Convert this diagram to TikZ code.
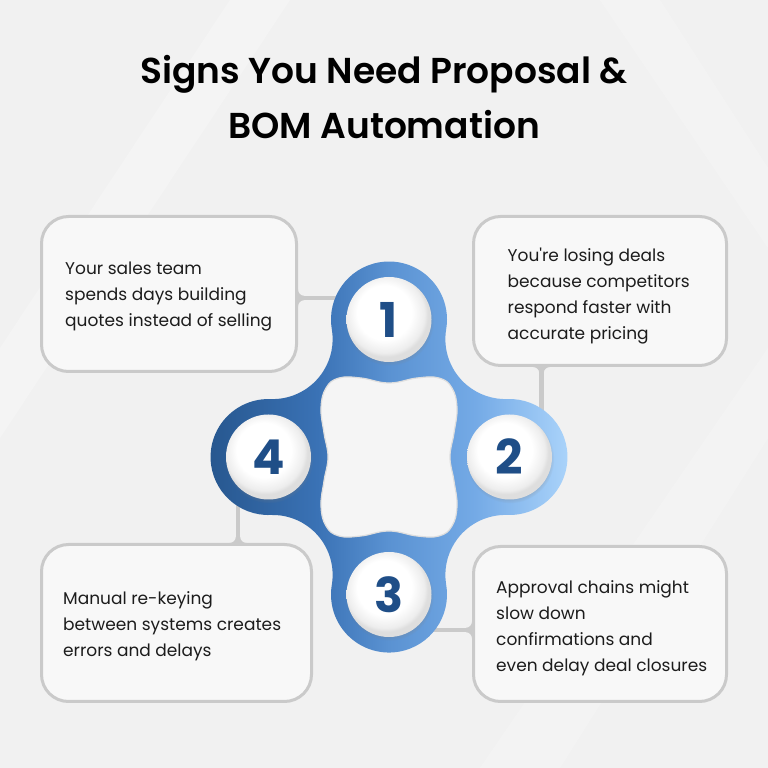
\documentclass[tikz,border=0pt]{standalone}
\usepackage{fontspec}
\setmainfont{Poppins}
\newfontfamily\titlefont{Poppins}[UprightFont={* SemiBold}]
\usetikzlibrary{calc,shadows}
\definecolor{bg}{HTML}{F1F1F1}
\definecolor{boxfill}{HTML}{F8F8F8}
\definecolor{boxline}{HTML}{CACACA}
\definecolor{numcol}{HTML}{1F4E87}
\definecolor{txtcol}{HTML}{1C1C1C}
\definecolor{holecol}{HTML}{F5F5F5}
\definecolor{bA}{HTML}{27578F}
\definecolor{bB}{HTML}{3A72B5}
\definecolor{bC}{HTML}{5A92D2}
\definecolor{bD}{HTML}{74AAE6}
\definecolor{bE}{HTML}{AAD3FA}
\pgfdeclarehorizontalshading{bluegrad}{100bp}{color(0bp)=(bA); color(25bp)=(bA); color(40bp)=(bB); color(50bp)=(bC); color(62bp)=(bD); color(75bp)=(bE); color(100bp)=(bE)}
\pgfdeclareradialshading{discshade}{\pgfpoint{-4bp}{6bp}}{color(0bp)=(white); color(16bp)=(white); color(23bp)=(black!7); color(25bp)=(black!13); color(50bp)=(black!13)}
\newcommand\btext[1]{\parbox[t]{280pt}{\raggedright\fontsize{17}{25.7}\selectfont #1}}
\begin{document}
\begin{tikzpicture}[x=1pt,y=1pt,
  infobox/.style={draw=boxline, line width=3pt, fill=boxfill, rounded corners=27pt},
  conn/.style={draw=boxline, line width=4.5pt},
  fillet/.style={fill=boxline},
  numc/.style={circle, minimum size=85pt, inner sep=0pt, shading=discshade,
    circular drop shadow={shadow xshift=0.5pt, shadow yshift=-2pt, opacity=0.35, shadow scale=1.04},
    text=numcol, font=\fontsize{48}{48}\selectfont\bfseries},
  btxt/.style={anchor=base west, inner sep=0pt, text=txtcol}
]
\useasboundingbox (0,0) rectangle (768,768);
\fill[bg] (0,0) rectangle (768,768);
% faint streaks
\fill[white, opacity=0.25] (0,330) -- (0,420) -- (230,768) -- (290,768) -- cycle;
\fill[white, opacity=0.2] (480,0) -- (560,0) -- (768,330) -- (768,420) -- cycle;
\fill[white, opacity=0.2] (600,768) -- (660,768) -- (768,600) -- (768,520) -- cycle;

% centres of the four discs
\coordinate (O) at (389,311);
\coordinate (c1) at (389,448.5);
\coordinate (c2) at (509.5,311);
\coordinate (c3) at (389,173.5);
\coordinate (c4) at (268.5,311);

% boxes
\node[infobox, minimum width=255pt, minimum height=155pt] (b1) at (169,474) {};
\node[infobox, minimum width=253pt, minimum height=149pt] (b2) at (600,477) {};
\node[infobox, minimum width=253pt, minimum height=155pt] (b3) at (600,144) {};
\node[infobox, minimum width=270pt, minimum height=157pt] (b4) at (176.5,145) {};

% connectors
\draw[conn] (b1.east |- 0,470) -- (c1 |- 0,470);
\fill[fillet] ($(b1.east |- 0,470)+(0,8.5)$) to[out=-90,in=180] ($(b1.east |- 0,470)+(6,2.2)$) -- ($(b1.east |- 0,470)+(6,-2.2)$) to[out=180,in=90] ($(b1.east |- 0,470)+(0,-8.5)$) -- cycle;
\draw[conn] (b2.south -| 541.5,0) -- (c2 -| 541.5,0);
\fill[fillet] ($(b2.south -| 541.5,0)+(-8.5,0)$) to[out=0,in=90] ($(b2.south -| 541.5,0)+(-2.2,-6)$) -- ($(b2.south -| 541.5,0)+(2.2,-6)$) to[out=90,in=180] ($(b2.south -| 541.5,0)+(8.5,0)$) -- cycle;
\draw[conn] (b3.west |- 0,138) -- (c3 |- 0,138);
\fill[fillet] ($(b3.west |- 0,138)+(0,8.5)$) to[out=-90,in=0] ($(b3.west |- 0,138)+(-6,2.2)$) -- ($(b3.west |- 0,138)+(-6,-2.2)$) to[out=0,in=90] ($(b3.west |- 0,138)+(0,-8.5)$) -- cycle;
\draw[conn] (b4.north -| 238,0) -- (c4 -| 238,0);
\fill[fillet] ($(b4.north -| 238,0)+(-8.5,0)$) to[out=0,in=-90] ($(b4.north -| 238,0)+(-2.2,6)$) -- ($(b4.north -| 238,0)+(2.2,6)$) to[out=-90,in=180] ($(b4.north -| 238,0)+(8.5,0)$) -- cycle;

% blue body
\shade[shading=bluegrad] ($(c1)+(189.56:58pt)$)
  arc[start angle=189.56, end angle=-9.56, radius=58pt]
  arc[start angle=170.44, end angle=271.99, radius=60pt]
  arc[start angle=91.99, end angle=-91.99, radius=58pt]
  arc[start angle=88.01, end angle=189.56, radius=60pt]
  arc[start angle=9.56, end angle=-189.56, radius=58pt]
  arc[start angle=-9.56, end angle=91.99, radius=60pt]
  arc[start angle=-88.01, end angle=-271.99, radius=58pt]
  arc[start angle=-91.99, end angle=9.56, radius=60pt] -- cycle;

% central hole
\begin{scope}[shift={(O)}]
\filldraw[fill=holecol, draw=black!13, line width=1.2pt]
  plot[smooth cycle, tension=0.7] coordinates {
   (0,74) (28,79) (50,79) (63,69) (68,49) (65,24) (61,0) (65,-24) (68,-49) (63,-69) (50,-79) (28,-79)
   (0,-74) (-28,-79) (-50,-79) (-63,-69) (-68,-49) (-65,-24) (-61,0) (-65,24) (-68,49) (-63,69) (-50,79) (-28,79)};
\end{scope}

% numbered discs
\node[numc] (n1) at (c1) {1};
\node[numc] (n2) at (c2) {2};
\node[numc] (n3) at (c3) {3};
\node[numc] (n4) at (c4) {4};

% texts
\node[btxt] (t1) at (65,493) {\btext{Your sales team\\spends days building\\quotes instead of selling}};
\node[btxt] (t2) at (507.5,506) {\btext{You\textquotesingle re losing deals\\because competitors\\respond faster with\\accurate pricing}};
\node[btxt] (t3) at (496,174) {\btext{Approval chains might\\slow down\\confirmations and\\even delay deal closures}};
\node[btxt] (t4) at (63,163) {\btext{Manual re-keying\\between systems creates\\errors and delays}};

% title
\node[anchor=base, inner sep=0pt, text=black] (title) at (384,684)
  {\parbox[t]{660pt}{\centering\titlefont\fontsize{36}{55}\selectfont Signs You Need Proposal \&\\BOM Automation}};
\end{tikzpicture}
\end{document}
